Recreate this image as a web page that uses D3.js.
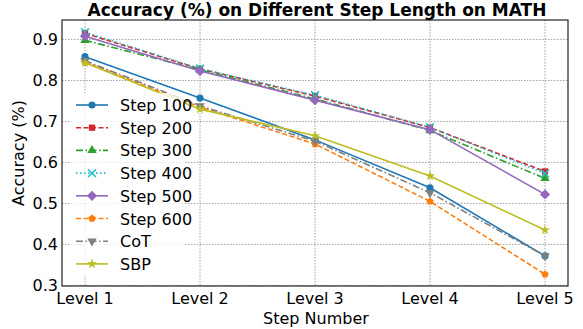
<!DOCTYPE html>
<html>
<head>
<meta charset="utf-8">
<script src="https://cdn.jsdelivr.net/npm/d3@7"></script>
<style>
  body { margin: 0; background: #fff; }
  text { font-family: "DejaVu Sans", sans-serif; fill: #000; }
</style>
</head>
<body>
<div id="chart"></div>
<script>
// data
const levels = ["Level 1", "Level 2", "Level 3", "Level 4", "Level 5"];
const yTicks = [0.3, 0.4, 0.5, 0.6, 0.7, 0.8, 0.9];

const step100 = [0.858, 0.757, 0.655, 0.538, 0.372];
const step200 = [0.915, 0.828, 0.762, 0.685, 0.578];
const step300 = [0.898, 0.826, 0.755, 0.678, 0.561];
const step400 = [0.918, 0.829, 0.764, 0.686, 0.573];
const step500 = [0.908, 0.823, 0.752, 0.680, 0.522];
const step600 = [0.845, 0.735, 0.645, 0.505, 0.327];
const cot     = [0.848, 0.738, 0.652, 0.526, 0.372];
const sbp     = [0.843, 0.730, 0.665, 0.567, 0.435];

const width = 583, height = 329;
const plotL = 62, plotR = 568, plotT = 20, plotB = 286;

// custom marker shapes
const polygon = (n, rot) => ({
  draw(ctx, size) {
    const r = Math.sqrt(size / (n * Math.sin(2 * Math.PI / n) / 2));
    for (let i = 0; i < n; i++) {
      const a = rot + i * 2 * Math.PI / n;
      const px = r * Math.sin(a), py = -r * Math.cos(a);
      i ? ctx.lineTo(px, py) : ctx.moveTo(px, py);
    }
    ctx.closePath();
  }
});
const diamond = polygon(4, 0);
const triDown = polygon(3, Math.PI);
const pentagon = polygon(5, 0);

const series = [
  {name: "Step 100", values: step100, color: "#1f77b4", dash: null, shape: d3.symbolCircle, size: 40},
  {name: "Step 200", values: step200, color: "#d62728", dash: "5,2.5", shape: d3.symbolSquare, size: 40},
  {name: "Step 300", values: step300, color: "#2ca02c", dash: "7,2.5,1.5,2.5", shape: d3.symbolTriangle, size: 38},
  {name: "Step 400", values: step400, color: "#17becf", dash: "1.5,2.5", shape: d3.symbolTimes, size: 42, stroke: true},
  {name: "Step 500", values: step500, color: "#9467bd", dash: null, shape: diamond, size: 52},
  {name: "Step 600", values: step600, color: "#ff7f0e", dash: "5,2.5", shape: pentagon, size: 36},
  {name: "CoT",      values: cot,     color: "#7f7f7f", dash: "7,2.5,1.5,2.5", shape: triDown, size: 38},
  {name: "SBP",      values: sbp,     color: "#bcbd22", dash: null, shape: d3.symbolStar, size: 32}
];

const svg = d3.select("#chart").append("svg")
  .attr("width", width).attr("height", height);

const x = d3.scaleLinear().domain([-0.2, 4.2]).range([plotL, plotR]);
const y = d3.scaleLinear().domain([0.2985, 0.9475]).range([plotB, plotT]);

// grid
svg.append("g").selectAll("line").data(levels).enter().append("line")
  .attr("x1", (d, i) => x(i)).attr("x2", (d, i) => x(i))
  .attr("y1", plotT).attr("y2", plotB)
  .style("stroke", "#a0a0a0").style("stroke-dasharray", "1.5,1.5");
svg.append("g").selectAll("line").data(yTicks).enter().append("line")
  .attr("x1", plotL).attr("x2", plotR)
  .attr("y1", d => y(d)).attr("y2", d => y(d))
  .style("stroke", "#a0a0a0").style("stroke-dasharray", "1.5,1.5");

// tick labels
svg.append("g").selectAll("text").data(levels).enter().append("text")
  .attr("x", (d, i) => x(i)).attr("y", plotB + 18)
  .attr("text-anchor", "middle").style("font-size", "16px").text(d => d);
svg.append("g").selectAll("text").data(yTicks).enter().append("text")
  .attr("x", plotL - 4).attr("y", d => y(d) + 6)
  .attr("text-anchor", "end").style("font-size", "16px").text(d => d.toFixed(1));

// lines and markers
const line = d3.line().x((d, i) => x(i)).y(d => y(d));
series.forEach(s => {
  svg.append("path").datum(s.values)
    .attr("fill", "none").attr("stroke", s.color).attr("stroke-width", 1.6)
    .attr("stroke-dasharray", s.dash).attr("d", line);
  svg.append("g").selectAll("path").data(s.values).enter().append("path")
    .attr("transform", (d, i) => `translate(${x(i)},${y(d)})`)
    .attr("d", d3.symbol().type(s.shape).size(s.size))
    .attr("fill", s.stroke ? "none" : s.color)
    .attr("stroke", s.stroke ? s.color : "none")
    .attr("stroke-width", 1.5);
});

// spines
svg.append("rect").attr("x", plotL).attr("y", plotT)
  .attr("width", plotR - plotL).attr("height", plotB - plotT)
  .attr("fill", "none").attr("stroke", "#333").attr("stroke-width", 1.3);

// legend
const leg = svg.append("g");
leg.append("rect").attr("x", 70).attr("y", 93).attr("width", 115).attr("height", 183)
  .attr("rx", 3).attr("fill", "#fff").attr("fill-opacity", 0.8);
series.forEach((s, i) => {
  const ly = 105 + i * 22.7;
  leg.append("line").attr("x1", 76).attr("x2", 108).attr("y1", ly).attr("y2", ly)
    .attr("stroke", s.color).attr("stroke-width", 1.6).attr("stroke-dasharray", s.dash);
  leg.append("path").attr("transform", `translate(92,${ly})`)
    .attr("d", d3.symbol().type(s.shape).size(s.size))
    .attr("fill", s.stroke ? "none" : s.color)
    .attr("stroke", s.stroke ? s.color : "none").attr("stroke-width", 1.5);
  leg.append("text").attr("x", 120).attr("y", ly + 6)
    .style("font-size", "16px").text(s.name);
});

// title and axis labels
svg.append("text").attr("x", 317).attr("y", 16).attr("text-anchor", "middle")
  .style("font-size", "17px").style("font-weight", "bold")
  .text("Accuracy (%) on Different Step Length on MATH");
svg.append("text").attr("x", 316).attr("y", 324).attr("text-anchor", "middle")
  .style("font-size", "16px").text("Step Number");
svg.append("text").attr("transform", `translate(24,${(plotT + plotB) / 2}) rotate(-90)`)
  .attr("text-anchor", "middle").style("font-size", "16px").text("Accuracy (%)");
</script>
</body>
</html>
